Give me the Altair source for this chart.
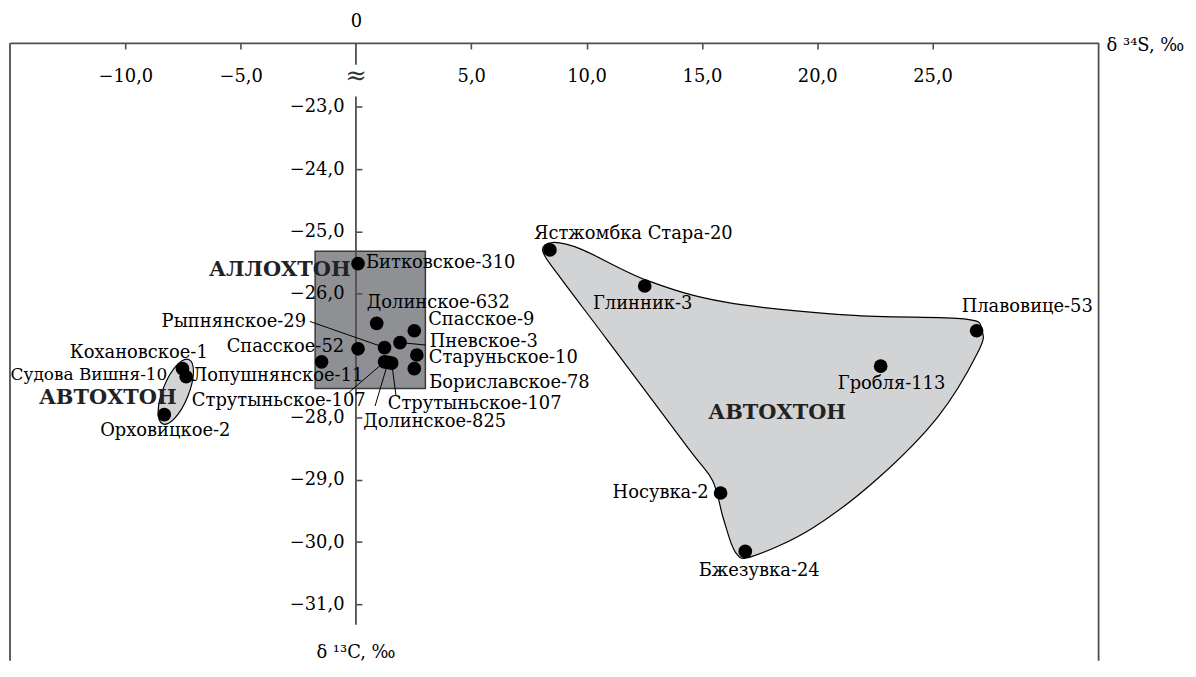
import altair as alt
import pandas as pd

# ---------------- data ----------------
names = ["Битковское-310", "Долинское-632", "Спасское-9", "Пневское-3", "Рыпнянское-29",
         "Спасское-52", "Старуньское-10", "Лопушнянское-11", "Струтыньское-107", "Долинское-825",
         "Струтыньское-107", "Бориславское-78", "Кохановское-1", "Судова Вишня-10", "Орховицкое-2",
         "Ястжомбка  Стара-20", "Глинник-3", "Плавовице-53", "Гробля-113", "Носувка-2", "Бжезувка-24"]
d34s = [0.09, 0.90, 2.53, 1.91, 1.24, 0.09, 2.64, -1.49, 1.24, 1.39, 1.55, 2.53,
        -7.52, -7.36, -8.31, 8.41, 12.52, 26.91, 22.75, 15.81, 16.88]
d13c = [-25.52, -26.48, -26.60, -26.79, -26.87, -26.89, -26.99, -27.10, -27.10, -27.11, -27.12, -27.21,
        -27.21, -27.34, -27.95, -25.30, -25.88, -26.60, -27.17, -29.21, -30.15]

# outline of the large "АВТОХТОН" field
outline_x = [8.10, 8.53, 9.78, 12.62, 16.02, 21.40, 26.36, 27.13, 26.96, 25.24, 22.61, 19.77,
             17.18, 16.45, 15.93, 15.46, 14.43, 10.90, 8.79]
outline_y = [-25.32, -25.18, -25.29, -25.79, -26.14, -26.35, -26.41, -26.59, -26.95, -27.98, -28.98, -29.78,
             -30.23, -30.16, -29.62, -29.01, -28.50, -26.75, -25.71]

# "АЛЛОХТОН" box
box_x = [-1.77, 3.01]
box_y = [-25.32, -27.53]

# small "АВТОХТОН" ellipse centre
ell_x = [-7.81]
ell_y = [-27.58]

# region captions
region_names = ["АЛЛОХТОН", "АВТОХТОН", "АВТОХТОН"]
region_x = [-3.30, -10.76, 18.26]
region_y = [-25.62, -27.69, -27.92]

# leader lines: point index -> end of the line near the caption
leader_idx = [3, 4, 8, 9, 10]
leader_x2 = [3.03, -2.00, -0.30, 0.83, 1.74]
leader_y2 = [-26.83, -26.45, -27.59, -27.81, -27.65]

x_ticks = [-10, -5, 5, 10, 15, 20, 25]
y_ticks = [-23, -24, -25, -26, -28, -29, -30, -31]

# y axis line pieces (broken at the "≈" sign)
axis_seg_y = [-21.97, -22.83]
axis_seg_y2 = [-22.32, -31.33]

# ---------------- layout / style ----------------
FONT = "DejaVu Serif"
LINE = "#4f4f4f"
W, H = 1096, 622
XDOM = [-15, 32.2]
YDOM = [-31.91, -21.97]
X0PX = (0 - XDOM[0]) / (XDOM[1] - XDOM[0]) * W
FS = 18

# per-label placement: (dx, dy, align, font size)
label_layout = [
    (8, -1, "left", FS), (-10, -20, "left", FS), (14, -11, "left", FS), (30, -1, "left", FS),
    (-79, -26, "right", FS), (-14, -2, "right", FS), (12, 3, "left", FS), (42, 14, "right", FS),
    (-19, 39, "right", FS), (-25, 60, "left", FS), (-4, 41, "left", FS), (15, 14, "left", FS),
    (-44, -16, "center", FS), (-19, -2, "right", 17), (1, 16, "center", FS),
    (-16, -16, "left", FS), (-2, 18, "center", FS), (-15, -24, "left", FS), (11, 18, "center", FS),
    (-12, 0, "right", FS), (14, 20, "center", FS),
]

xs = alt.Scale(domain=XDOM, nice=False, zero=False)
ys = alt.Scale(domain=YDOM, nice=False, zero=False)


def X(f, axis=None):
    return alt.X(f, type="quantitative", scale=xs, axis=axis)


def Y(f, axis=None):
    return alt.Y(f, type="quantitative", scale=ys, axis=axis)


pts = pd.DataFrame({"name": names, "x": d34s, "y": d13c})
outline = pd.DataFrame({"i": list(range(len(outline_x))), "x": outline_x, "y": outline_y})
box = pd.DataFrame({"x": [box_x[0]], "x2": [box_x[1]], "y": [box_y[0]], "y2": [box_y[1]]})
ell = pd.DataFrame({"x": ell_x, "y": ell_y})
regions = pd.DataFrame({"t": region_names, "x": region_x, "y": region_y})
leaders = pd.DataFrame({
    "x": [d34s[i] for i in leader_idx], "y": [d13c[i] for i in leader_idx],
    "x2": leader_x2, "y2": leader_y2,
})
axis_segs = pd.DataFrame({"x": [0, 0], "y": axis_seg_y, "y2": axis_seg_y2})
frame = pd.DataFrame({"x": XDOM, "y": [YDOM[1], YDOM[1]], "y2": [YDOM[0], YDOM[0]]})

num_expr = "replace(format(datum.value, '.1f'), '.', ',')"

axis_x_main = alt.Axis(orient="bottom", offset=-H, values=x_ticks, tickSize=6, tickColor=LINE,
                       tickWidth=1.6, domain=True, domainColor=LINE, domainWidth=1.8, labelPadding=19,
                       labelFont=FONT, labelFontSize=FS, labelColor="black", labelExpr=num_expr,
                       grid=False, title=None, zindex=1, labelOverlap=False)
axis_x_zero = alt.Axis(orient="top", values=[0], ticks=False, tickSize=0, domain=False,
                       labelPadding=13, labelFont=FONT, labelFontSize=FS, labelColor="black",
                       format="d", grid=False, title=None, zindex=1)
axis_y_ticks = alt.Axis(orient="right", offset=-(W - X0PX), values=y_ticks, tickSize=6,
                        tickColor=LINE, tickWidth=1.6, labels=False, domain=False, grid=False,
                        title=None, zindex=1)
axis_y_labels = alt.Axis(orient="left", offset=-X0PX, values=y_ticks, ticks=False, tickSize=0,
                         domain=False, labelPadding=12, labelFont=FONT, labelFontSize=FS,
                         labelColor="black", labelExpr=num_expr, grid=False, title=None, zindex=1,
                         labelOverlap=False)

layers = []

# big field
layers.append(alt.Chart(outline).mark_line(
    interpolate="cardinal-closed", fill="#d2d3d5", stroke="black", strokeWidth=1.2
).encode(x=X("x"), y=Y("y"), order=alt.Order("i:Q")))

# ellipse
layers.append(alt.Chart(ell).mark_point(
    shape="M0,-1A0.37,1,0,1,1,0,1A0.37,1,0,1,1,0,-1Z", size=4900, angle=22,
    filled=True, fill="#d2d3d5", stroke="black", strokeWidth=1.2, opacity=1
).encode(x=X("x"), y=Y("y")))

# box
layers.append(alt.Chart(box).mark_rect(fill="#8f9094", stroke="#3a3a3a", strokeWidth=1.5).encode(
    x=X("x"), x2="x2", y=Y("y"), y2="y2"))

# frame sides and y axis line
layers.append(alt.Chart(frame).mark_rule(color=LINE, strokeWidth=1.8).encode(
    x=X("x"), y=Y("y"), y2="y2"))
layers.append(alt.Chart(axis_segs).mark_rule(color=LINE, strokeWidth=1.8).encode(
    x=X("x"), y=Y("y"), y2="y2"))

# leader lines
layers.append(alt.Chart(leaders).mark_rule(color="black", strokeWidth=1).encode(
    x=X("x"), y=Y("y"), x2="x2", y2="y2"))

# dots (carry main axes)
layers.append(alt.Chart(pts).mark_circle(size=190, color="black", opacity=1).encode(
    x=X("x", axis_x_main), y=Y("y", axis_y_ticks)))
# invisible carrier for the other two axes
layers.append(alt.Chart(pts).mark_point(opacity=0).encode(
    x=X("x", axis_x_zero), y=Y("y", axis_y_labels)))

# point labels
for i, (dx, dy, al, fs) in enumerate(label_layout):
    row = pd.DataFrame({"t": [names[i]], "x": [d34s[i]], "y": [d13c[i]]})
    layers.append(alt.Chart(row).mark_text(
        dx=dx, dy=dy, align=al, baseline="middle", font=FONT, fontSize=fs, color="black"
    ).encode(x=X("x"), y=Y("y"), text="t:N"))

# region captions
layers.append(alt.Chart(regions).mark_text(
    align="center", baseline="middle", font=FONT, fontSize=21, fontWeight="bold", color="#222222"
).encode(x=X("x"), y=Y("y"), text="t:N"))

# axis break sign and axis titles
misc = pd.DataFrame({"t": ["≈"], "x": [0], "y": [-22.50]})
layers.append(alt.Chart(misc).mark_text(font=FONT, fontSize=26, color="#333333", baseline="middle")
              .encode(x=X("x"), y=Y("y"), text="t:N"))
layers.append(alt.Chart(pd.DataFrame({"t": ["δ ³⁴S, ‰"]})).mark_text(
    align="left", baseline="middle", dx=8, dy=3, font=FONT, fontSize=FS, color="black"
).encode(x=alt.X(datum=XDOM[1], type="quantitative", scale=xs, axis=None),
         y=alt.Y(datum=YDOM[1], type="quantitative", scale=ys, axis=None), text="t:N"))
layers.append(alt.Chart(pd.DataFrame({"t": ["δ ¹³C, ‰"]})).mark_text(
    align="center", baseline="middle", font=FONT, fontSize=FS, color="black"
).encode(x=alt.X(datum=0, type="quantitative", scale=xs, axis=None),
         y=alt.Y(datum=-31.78, type="quantitative", scale=ys, axis=None), text="t:N"))

chart = alt.layer(*layers).resolve_axis(x="independent", y="independent").properties(
    width=W, height=H,
    autosize=alt.AutoSizeParams(type="none"),
    padding={"left": 2, "top": 33, "right": 90, "bottom": 0},
).configure_view(stroke=None)

chart.save("out.html", embed_options={"renderer": "svg", "actions": False})
